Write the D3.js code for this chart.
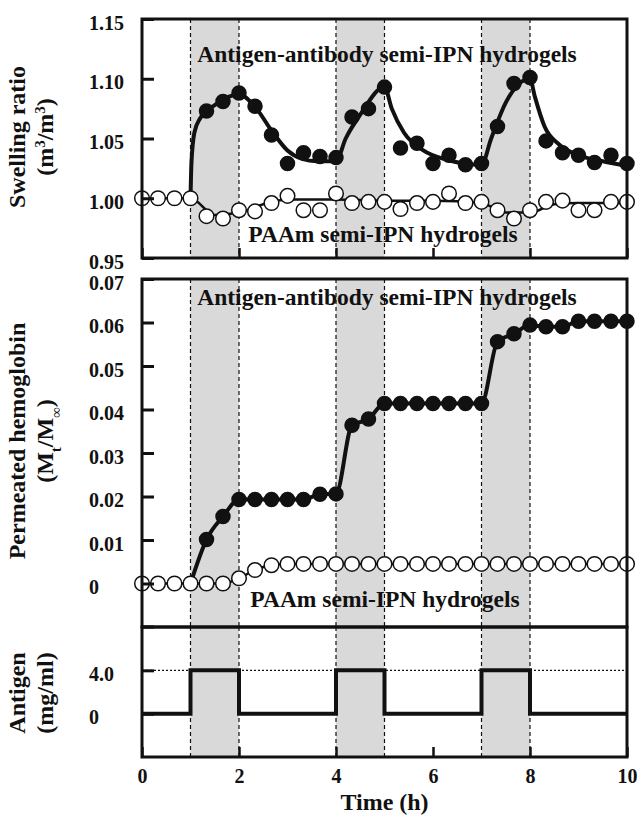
<!DOCTYPE html>
<html>
<head>
<meta charset="utf-8">
<script src="https://cdn.jsdelivr.net/npm/d3@7"></script>
<style>
  body { margin: 0; background: #fff; }
  svg text { font-family: "Liberation Serif", "Times New Roman", serif; font-weight: bold; fill: #111; }
</style>
</head>
<body>
<div id="chart"></div>
<script>
// sampling times (h), one point every 20 min
const times = [0, 0.33, 0.67, 1, 1.33, 1.67, 2, 2.33, 2.67, 3, 3.33, 3.67, 4, 4.33, 4.67, 5,
  5.33, 5.67, 6, 6.33, 6.67, 7, 7.33, 7.67, 8, 8.33, 8.67, 9, 9.33, 9.67, 10];

// swelling ratio
const swellAb = [1.000, 1.000, 1.000, 1.000, 1.073, 1.081, 1.088, 1.077, 1.053, 1.029, 1.038, 1.035, 1.034,
  1.068, 1.075, 1.093, 1.042, 1.046, 1.029, 1.036, 1.028, 1.029, 1.060, 1.096, 1.101, 1.048, 1.038,
  1.036, 1.030, 1.036, 1.029];
const swellPAAm = [1.000, 1.000, 1.000, 1.000, 0.985, 0.983, 0.990, 0.989, 0.996, 1.002, 0.990, 0.990, 1.004,
  0.996, 0.997, 0.997, 0.991, 0.996, 0.997, 1.004, 0.996, 0.997, 0.990, 0.983, 0.990, 0.997, 0.998,
  0.990, 0.990, 0.997, 0.997];

// fitted (smoothed) swelling curves
const fitAbT = [1, 1.02, 1.08, 1.2, 1.5, 2, 2.3, 2.7, 3, 3.3, 3.6, 4, 4.2, 4.5, 5, 5.15, 5.4, 5.8, 6.3, 7,
  7.2, 7.5, 8, 8.1, 8.3, 8.6, 9, 9.5, 10];
const fitAb = [1.000, 1.030, 1.055, 1.067, 1.078, 1.087, 1.078, 1.055, 1.040, 1.033, 1.031, 1.031, 1.050,
  1.070, 1.093, 1.075, 1.055, 1.040, 1.032, 1.028, 1.050, 1.080, 1.100, 1.085, 1.060, 1.045, 1.036,
  1.031, 1.027];
const fitPAAmT = [0, 1, 1.5, 2, 2.5, 3, 4, 5, 6, 7, 7.5, 8, 8.5, 9, 10];
const fitPAAm = [1.000, 1.000, 0.986, 0.988, 0.995, 0.999, 0.999, 0.998, 0.998, 0.996, 0.988, 0.988,
  0.995, 0.996, 0.996];

// permeated hemoglobin (Mt/Minf)
const hbAb = [0, 0, 0, 0, 0.0101, 0.0154, 0.0193, 0.0193, 0.0193, 0.0193, 0.0193, 0.0205, 0.0206,
  0.0364, 0.0378, 0.0414, 0.0414, 0.0414, 0.0414, 0.0414, 0.0414, 0.0414, 0.0556, 0.0574, 0.0594,
  0.0590, 0.0590, 0.0603, 0.0603, 0.0603, 0.0603];
const hbPAAm = [0, 0, 0, 0, 0, 0, 0.0012, 0.0031, 0.0042, 0.0045, 0.0045, 0.0045, 0.0045, 0.0045,
  0.0045, 0.0045, 0.0045, 0.0045, 0.0045, 0.0045, 0.0045, 0.0045, 0.0045, 0.0045, 0.0045, 0.0045,
  0.0045, 0.0045, 0.0045, 0.0045, 0.0045];

// antigen concentration steps (mg/ml)
const stepT = [0, 1, 2, 4, 5, 7, 8, 10];
const stepConc = [0, 4, 0, 4, 0, 4, 0, 0];
const pulses = [[1, 2], [4, 5], [7, 8]];

const swellTicks = [0.95, 1.00, 1.05, 1.10, 1.15];
const hbTicks = [0, 0.01, 0.02, 0.03, 0.04, 0.05, 0.06, 0.07];
const concTicks = [0, 4];
const timeTicks = [0, 2, 4, 6, 8, 10];

const width = 637, height = 819;
const svg = d3.select("#chart").append("svg")
  .attr("width", width)
  .attr("height", height);

const x = d3.scaleLinear().domain([0, 10]).range([142, 627]);

const panels = {
  top: { y: d3.scaleLinear().domain([0.95, 1.15]).range([258, 19]) },
  mid: { y: d3.scaleLinear().domain([-0.01, 0.07]).range([627, 279]) },
  bot: { y: d3.scaleLinear().domain([-4, 8]).range([757, 627]) }
};

function background(p) {
  const [y0, y1] = p.y.range();
  svg.append("g")
    .selectAll("rect")
    .data(pulses)
    .join("rect")
    .attr("x", d => x(d[0]))
    .attr("y", y1)
    .attr("width", d => x(d[1]) - x(d[0]))
    .attr("height", y0 - y1)
    .attr("fill", "#d9d9d9");
}

function guides(p) {
  const [y0, y1] = p.y.range();
  svg.append("g")
    .selectAll("line")
    .data(pulses.flat())
    .join("line")
    .attr("x1", d => x(d)).attr("x2", d => x(d))
    .attr("y1", y1).attr("y2", y0)
    .attr("stroke", "#111")
    .attr("stroke-width", 1.2)
    .attr("stroke-dasharray", "4,3");
}

function frame(p) {
  const [y0, y1] = p.y.range();
  svg.append("rect")
    .attr("x", x(0)).attr("y", y1)
    .attr("width", x(10) - x(0)).attr("height", y0 - y1)
    .attr("fill", "none")
    .attr("stroke", "#111")
    .attr("stroke-width", 3);
}

function yAxis(p, ticks, fmt) {
  const g = svg.append("g")
    .attr("transform", `translate(${x(0)},0)`)
    .call(d3.axisLeft(p.y).tickValues(ticks).tickFormat(fmt).tickSize(-12));
  g.select(".domain").remove();
  g.selectAll(".tick line").attr("stroke", "#111").attr("stroke-width", 3);
  g.selectAll(".tick text")
    .attr("x", -53)
    .attr("dy", "0.5em")
    .attr("text-anchor", "start")
    .style("font-size", "20px");
  return g;
}

function xTicks(p, labels) {
  const g = svg.append("g")
    .attr("transform", `translate(0,${p.y.range()[0]})`)
    .call(d3.axisBottom(x).tickValues(timeTicks).tickSize(-10).tickPadding(12)
      .tickFormat(labels ? d3.format("d") : ""));
  g.select(".domain").remove();
  g.selectAll(".tick line").attr("stroke", "#111").attr("stroke-width", 2.5);
  g.selectAll(".tick text").style("font-size", "20px");
}

function yTitle(lines, cy) {
  const t = svg.append("text")
    .attr("transform", `translate(0,${cy}) rotate(-90)`)
    .attr("text-anchor", "middle")
    .style("font-size", "24px");
  lines.forEach((parts, i) => {
    const line = t.append("tspan").attr("x", 0).attr("y", i === 0 ? 25 : 53);
    parts.forEach(([s, shift]) => {
      const sp = line.append("tspan").text(s);
      if (shift) sp.attr("baseline-shift", shift).style("font-size", "15px");
    });
  });
}

function note(text, cx, y) {
  svg.append("text")
    .attr("x", cx).attr("y", y)
    .attr("text-anchor", "middle")
    .style("font-size", "23.5px")
    .text(text);
}

function dots(p, vals, filled, from = 0) {
  const pts = times.map((t, i) => ({ t, v: vals[i] })).slice(from);
  svg.append("g")
    .selectAll("circle")
    .data(pts)
    .join("circle")
    .attr("cx", d => x(d.t))
    .attr("cy", d => p.y(d.v))
    .attr("r", filled ? 7 : 7.3)
    .attr("fill", filled ? "#111" : "#fff")
    .attr("stroke", "#111")
    .attr("stroke-width", 1.5);
}

function curve(p, ts, vs, w) {
  const line = d3.line()
    .x(d => x(d[0]))
    .y(d => p.y(d[1]))
    .curve(d3.curveMonotoneX);
  svg.append("path")
    .datum(ts.map((t, i) => [t, vs[i]]))
    .attr("d", line)
    .attr("fill", "none")
    .attr("stroke", "#111")
    .attr("stroke-width", w);
}

// backgrounds
Object.values(panels).forEach(background);

// annotations
note("Antigen-antibody semi-IPN hydrogels", 387, 62);
note("PAAm semi-IPN hydrogels", 383, 242);
note("Antigen-antibody semi-IPN hydrogels", 387, 305);
note("PAAm semi-IPN hydrogels", 385, 607);

Object.values(panels).forEach(guides);

// swelling panel
curve(panels.top, fitPAAmT, fitPAAm, 2.5);
curve(panels.top, fitAbT, fitAb, 4);
dots(panels.top, swellAb, true, 4);
dots(panels.top, swellPAAm, false);

// hemoglobin panel
curve(panels.mid, times, hbPAAm, 2.5);
curve(panels.mid, times.slice(3), hbAb.slice(3), 4);
dots(panels.mid, hbAb, true, 4);
dots(panels.mid, hbPAAm, false);

// antigen panel
svg.append("line")
  .attr("x1", x(0)).attr("x2", x(10))
  .attr("y1", panels.bot.y(4)).attr("y2", panels.bot.y(4))
  .attr("stroke", "#111")
  .attr("stroke-width", 1.2)
  .attr("stroke-dasharray", "2,2");
svg.append("path")
  .datum(stepT.map((t, i) => [t, stepConc[i]]))
  .attr("d", d3.line().x(d => x(d[0])).y(d => panels.bot.y(d[1])).curve(d3.curveStepAfter))
  .attr("fill", "none")
  .attr("stroke", "#111")
  .attr("stroke-width", 4);

Object.values(panels).forEach(frame);

yAxis(panels.top, swellTicks, d3.format(".2f"));
yAxis(panels.mid, hbTicks, d => d === 0 ? "0" : d3.format(".2f")(d));
yAxis(panels.bot, concTicks, d => d === 0 ? "0" : d3.format(".1f")(d));
// short inward tick at the top of the antigen panel
svg.append("line")
  .attr("x1", x(0)).attr("x2", x(0) + 12)
  .attr("y1", panels.bot.y(8)).attr("y2", panels.bot.y(8))
  .attr("stroke", "#111").attr("stroke-width", 3);

xTicks(panels.top, false);
xTicks(panels.bot, true);

yTitle([[["Swelling ratio"]], [["(m"], ["3", "super"], ["/m"], ["3", "super"], [")"]]], 137);
yTitle([[["Permeated hemoglobin"]], [["(M"], ["t", "sub"], ["/M"], ["∞", "sub"], [")"]]], 441);
yTitle([[["Antigen"]], [["(mg/ml)"]]], 693);

svg.append("text")
  .attr("x", (x(0) + x(10)) / 2)
  .attr("y", 810)
  .attr("text-anchor", "middle")
  .style("font-size", "24px")
  .text("Time (h)");
</script>
</body>
</html>
